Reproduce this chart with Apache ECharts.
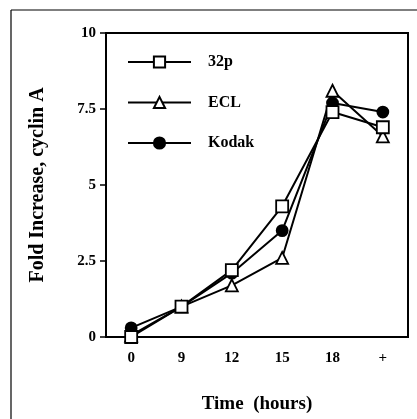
<!DOCTYPE html>
<html><head><meta charset="utf-8">
<script src="https://cdn.jsdelivr.net/npm/echarts@6/dist/echarts.min.js"></script>
<style>html,body{margin:0;padding:0;background:#fff}#c{width:417px;height:419px}</style>
</head><body><div id="c"></div>
<script>
var categories = ['0', '9', '12', '15', '18', '+'];
var p32 = [0, 1.0, 2.2, 4.3, 7.4, 6.9];
var ecl = [0.05, 1.0, 1.7, 2.6, 8.1, 6.6];
var kodak = [0.3, 1.0, 2.1, 3.5, 7.7, 7.4];
var yTicks = [0, 2.5, 5, 7.5, 10];

var F = '"Liberation Serif", "Times New Roman", serif';
var chart = echarts.init(document.getElementById('c'));
function s(name, data, sym, fill, size, z) {
  return {
    name: name, type: 'line', data: data, symbol: sym, symbolSize: size,
    lineStyle: {color: '#000', width: 2},
    itemStyle: {color: fill, borderColor: '#000', borderWidth: 1.8},
    z: z
  };
}
chart.setOption({
  animation: false,
  graphic: [
    {type: 'line', shape: {x1: 11, y1: 10, x2: 417, y2: 10}, style: {stroke: '#000', lineWidth: 1.2}},
    {type: 'line', shape: {x1: 11, y1: 10, x2: 11, y2: 419}, style: {stroke: '#000', lineWidth: 1.2}}
  ],
  grid: {left: 106, right: 9, top: 33, bottom: 81, show: true, borderColor: '#000', borderWidth: 2, backgroundColor: 'transparent'},
  legend: {
    orient: 'vertical', left: 127, top: 54, padding: 0, itemGap: 24.5,
    itemWidth: 63, itemHeight: 14,
    textStyle: {fontFamily: F, fontWeight: 'bold', fontSize: 16, color: '#000', padding: [0, 0, 0, 12]},
    data: ['32p', 'ECL', 'Kodak']
  },
  xAxis: {
    type: 'category', data: categories, boundaryGap: true,
    name: 'Time  (hours)', nameLocation: 'middle', nameGap: 58,
    nameTextStyle: {fontFamily: F, fontWeight: 'bold', fontSize: 19, color: '#000'},
    axisLine: {lineStyle: {color: '#000', width: 2}},
    axisTick: {alignWithLabel: true, length: 5, lineStyle: {color: '#000', width: 1.5}},
    axisLabel: {fontFamily: F, fontWeight: 'bold', fontSize: 15, color: '#000', margin: 14}
  },
  yAxis: {
    type: 'value', min: 0, max: 10, interval: 2.5,
    name: 'Fold Increase, cyclin A', nameLocation: 'middle', nameGap: 58, nameRotate: 90,
    nameTextStyle: {fontFamily: F, fontWeight: 'bold', fontSize: 20, color: '#000'},
    splitLine: {show: false},
    axisLine: {show: true, lineStyle: {color: '#000', width: 2}},
    axisTick: {show: true, length: 6, lineStyle: {color: '#000', width: 1.5}},
    axisLabel: {fontFamily: F, fontWeight: 'bold', fontSize: 15, color: '#000', margin: 10,
      formatter: function (v) { return yTicks.indexOf(v) >= 0 ? String(v) : ''; }}
  },
  series: [
    s('32p', p32, 'rect', '#fff', 12, 5),
    s('ECL', ecl, 'triangle', '#fff', 12, 3),
    s('Kodak', kodak, 'circle', '#000', 11, 4)
  ]
});
</script></body></html>
